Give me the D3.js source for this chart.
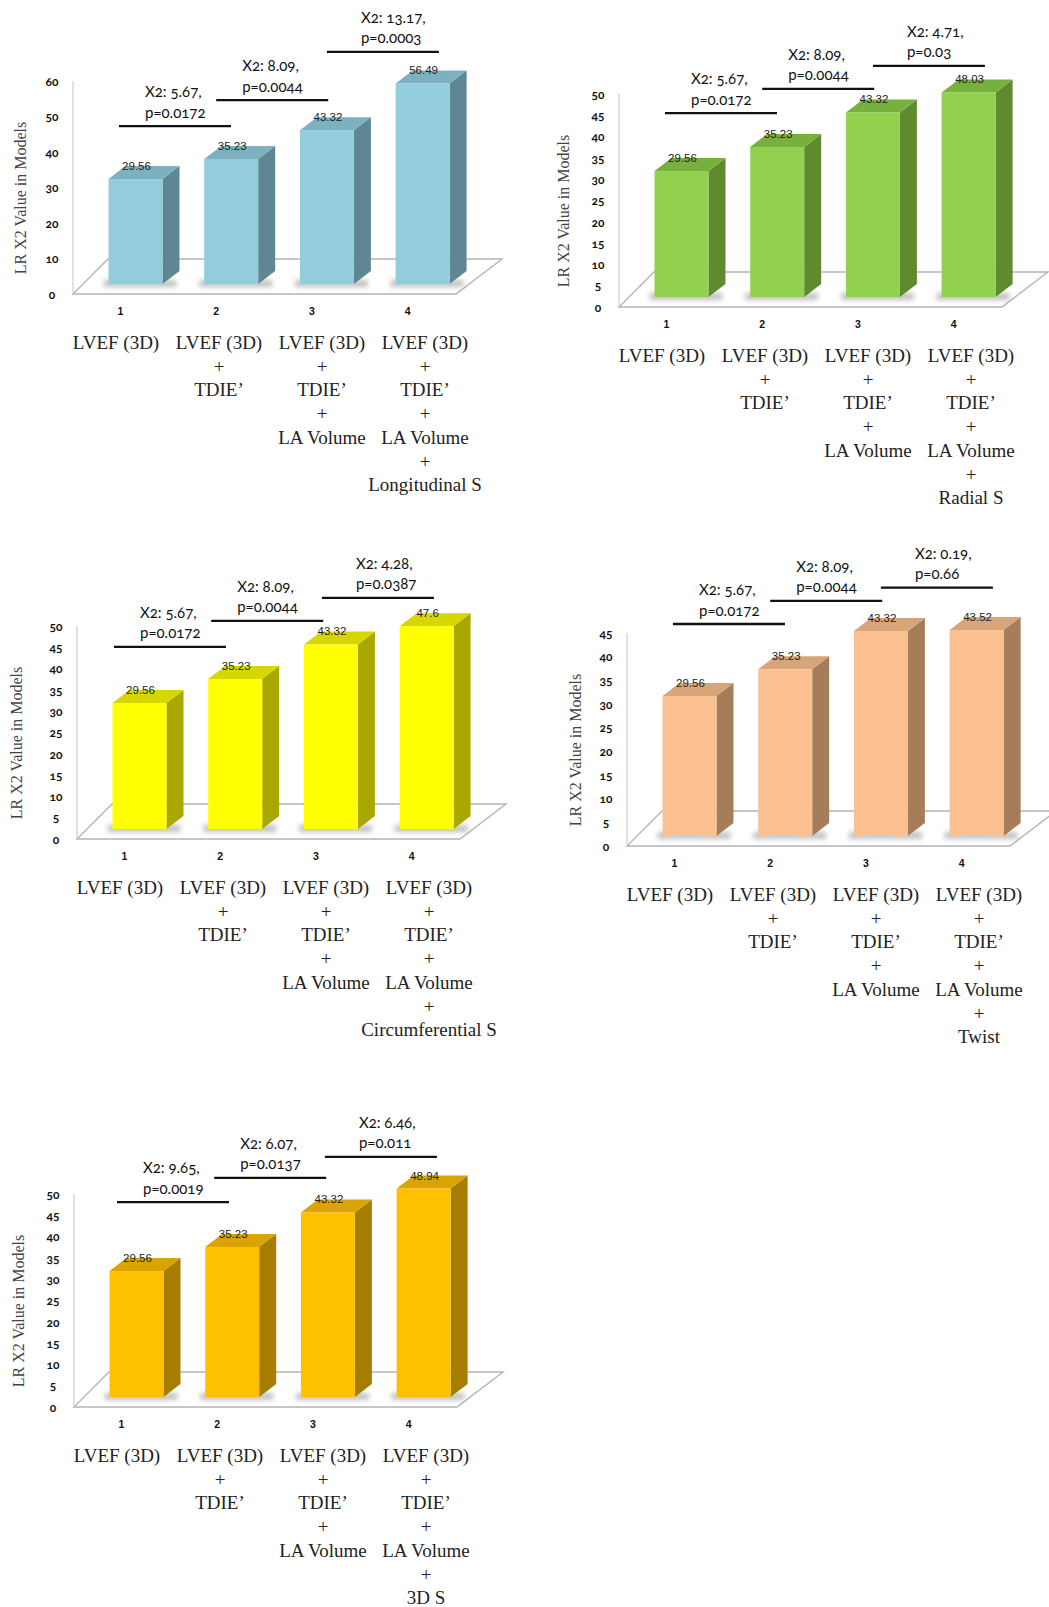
<!DOCTYPE html>
<html><head><meta charset="utf-8">
<script src="https://cdn.jsdelivr.net/npm/d3@7"></script>
<style>
body{margin:0;background:#fff;}
svg{display:block;}
.oldnum{font-variant-numeric:oldstyle-nums;font-feature-settings:"onum" 1;}
</style></head><body>
<svg id="c" width="1049" height="1607"></svg>
<script>
// ---------- DATA ----------
const categories = ["1", "2", "3", "4"];
const modelLines = [
  ["LVEF (3D)"],
  ["LVEF (3D)", "+", "TDIE’"],
  ["LVEF (3D)", "+", "TDIE’", "+", "LA Volume"],
  ["LVEF (3D)", "+", "TDIE’", "+", "LA Volume", "+"]
];
const addedMarkers = ["Longitudinal S", "Radial S", "Circumferential S", "Twist", "3D S"];
const valuesLongitudinal = [29.56, 35.23, 43.32, 56.49];
const valuesRadial = [29.56, 35.23, 43.32, 48.03];
const valuesCircumferential = [29.56, 35.23, 43.32, 47.6];
const valuesTwist = [29.56, 35.23, 43.32, 43.52];
const values3DS = [29.56, 35.23, 43.32, 48.94];
const chiLongitudinal = [["X2: 5.67,", "p=0.0172"], ["X2: 8.09,", "p=0.0044"], ["X2: 13.17,", "p=0.0003"]];
const chiRadial = [["X2: 5.67,", "p=0.0172"], ["X2: 8.09,", "p=0.0044"], ["X2: 4.71,", "p=0.03"]];
const chiCircumferential = [["X2: 5.67,", "p=0.0172"], ["X2: 8.09,", "p=0.0044"], ["X2: 4.28,", "p=0.0387"]];
const chiTwist = [["X2: 5.67,", "p=0.0172"], ["X2: 8.09,", "p=0.0044"], ["X2: 0.19,", "p=0.66"]];
const chi3DS = [["X2: 9.65,", "p=0.0019"], ["X2: 6.07,", "p=0.0137"], ["X2: 6.46,", "p=0.011"]];
const yMaxes = [60, 50, 50, 45, 50];
const tickSteps = [10, 5, 5, 5, 5];
const yAxisTitle = "LR X2 Value in Models";

// ---------- LAYOUT / STYLE ----------
const panels = [
  {values: valuesLongitudinal, chi: chiLongitudinal, marker: addedMarkers[0], max: yMaxes[0], step: tickSteps[0],
   ax: 73, ay: 294, titleDx: -53, bShift: 0, levels: [47.3, 54.6, 68.2],
   front: "#93CDDD", side: "#5E8792", top: "#7DB1BF"},
  {values: valuesRadial, chi: chiRadial, marker: addedMarkers[1], max: yMaxes[1], step: tickSteps[1],
   ax: 619, ay: 307, titleDx: -56, bShift: 0, levels: [45.5, 51.2, 56.6],
   front: "#92D050", side: "#5F8A30", top: "#78B03D"},
  {values: valuesCircumferential, chi: chiCircumferential, marker: addedMarkers[2], max: yMaxes[2], step: tickSteps[2],
   ax: 77, ay: 839, titleDx: -61, bShift: -9, levels: [45.1, 51.2, 56.6],
   front: "#FFFF00", side: "#A8A800", top: "#D6D600"},
  {values: valuesTwist, chi: chiTwist, marker: addedMarkers[3], max: yMaxes[3], step: tickSteps[3],
   ax: 627, ay: 846, titleDx: -52, bShift: 0, levels: [46.9, 51.8, 54.6],
   front: "#FAC08F", side: "#A67D5B", top: "#D8A479"},
  {values: values3DS, chi: chi3DS, marker: addedMarkers[4], max: yMaxes[4], step: tickSteps[4],
   ax: 74, ay: 1407, titleDx: -56, bShift: -3, levels: [48.1, 53.8, 58.7],
   front: "#FFC000", side: "#A67D00", top: "#D9A400"}
];

const svg = d3.select("#c");
const defs = svg.append("defs");
defs.append("filter").attr("id", "blur").attr("x", "-20%").attr("y", "-100%").attr("width", "140%").attr("height", "300%")
  .append("feGaussianBlur").attr("stdDeviation", 2.5);

const DX = 17, DY = -13, LIFT = 10, AXH = 213;
const bracketOffsets = [-16.5, -15, 0], bracketLen = 112, textOffsets = [26, 26, 34];

panels.forEach(p => {
  const g = svg.append("g");
  const {ax, ay} = p;
  const y = d3.scaleLinear().domain([0, p.max]).range([ay, ay - AXH]);
  const x = d3.scaleBand().domain(categories).range([ax + 35.5, ax + 376.6]).paddingInner(0.436).paddingOuter(0);
  const bw = x.bandwidth();
  const yb = v => y(v) - LIFT;
  const labelX = d3.scalePoint().domain(categories).range([ax + 43, ax + 352]);

  // floor
  const fl = [[ax, ay], [ax + 383, ay], [ax + 429, ay - 35], [ax + 35, ay - 35]];
  g.append("polygon").attr("points", fl.map(d => d.join(",")).join(" "))
    .attr("fill", "#fff").attr("stroke", "#b4b4b4").attr("stroke-width", 1.4);
  // vertical axis line
  g.append("line").attr("x1", ax).attr("x2", ax).attr("y1", y(0)).attr("y2", y(p.max))
    .attr("stroke", "#cfcfcf").attr("stroke-width", 1.2);

  // y axis ticks
  const yAxis = d3.axisLeft(y).tickValues(d3.range(0, p.max + 0.001, p.step)).tickSize(0).tickFormat(d3.format("d"));
  const ga = g.append("g").attr("transform", `translate(${ax},0)`).call(yAxis);
  ga.select(".domain").remove();
  ga.selectAll("text").attr("x", -21).attr("text-anchor", "middle").attr("dy", "0.35em")
    .attr("class", "oldnum")
    .style("font-family", "Lato, 'Open Sans', sans-serif").style("font-weight", "bold").style("font-size", "12px").attr("fill", "#111");

  // y title
  g.append("text").attr("transform", `translate(${ax + p.titleDx},${ay - 96}) rotate(-90)`)
    .attr("text-anchor", "middle").attr("dy", "0.35em")
    .style("font-family", "'Liberation Serif', 'Times New Roman', serif").style("font-size", "16px")
    .attr("fill", "#444").text(yAxisTitle);

  // shadows
  g.selectAll(".sh").data(p.values).join("rect")
    .attr("x", (d, i) => x(categories[i]) - 5).attr("y", yb(0) - 4)
    .attr("width", bw + DX + 2).attr("height", 7)
    .attr("fill", "#666").attr("opacity", 0.4).attr("filter", "url(#blur)");

  // bars
  const bars = g.selectAll(".bar").data(p.values).join("g");
  bars.append("polygon").attr("points", (d, i) => {
    const x1 = x(categories[i]) + bw, t = yb(d), b = yb(0);
    return [[x1, t], [x1 + DX, t + DY], [x1 + DX, b + DY], [x1, b]].map(q => q.join(",")).join(" ");
  }).attr("fill", p.side);
  bars.append("polygon").attr("points", (d, i) => {
    const x0 = x(categories[i]), x1 = x0 + bw, t = yb(d);
    return [[x0, t], [x0 + DX, t + DY], [x1 + DX, t + DY], [x1, t]].map(q => q.join(",")).join(" ");
  }).attr("fill", p.top);
  bars.append("rect").attr("x", (d, i) => x(categories[i])).attr("y", d => yb(d))
    .attr("width", bw).attr("height", d => yb(0) - yb(d)).attr("fill", p.front);

  // value labels
  g.selectAll(".vl").data(p.values).join("text")
    .attr("x", (d, i) => x(categories[i]) + bw / 2 + 1).attr("y", d => yb(d) - 9)
    .attr("text-anchor", "middle")
    .style("font-family", "'Liberation Sans', Arial, sans-serif").style("font-size", "11.5px")
    .attr("fill", "#222").text(d => d);

  // category numbers
  const xAxis = d3.axisBottom(x).tickSize(0).tickPadding(0);
  const gx = g.append("g").attr("transform", `translate(0,${ay + 14})`).call(xAxis);
  gx.select(".domain").remove();
  gx.selectAll("text").attr("x", -15)
    .style("font-family", "'Liberation Sans', Arial, sans-serif").style("font-weight", "bold").style("font-size", "10.5px").attr("fill", "#111");

  // multiline model labels
  const lines = modelLines.map((l, i) => i === 3 ? l.concat([p.marker]) : l);
  lines.forEach((l, i) => {
    g.selectAll(null).data(l).join("text")
      .attr("x", labelX(categories[i])).attr("y", (d, j) => ay + 55 + j * 23.7)
      .attr("text-anchor", "middle")
      .style("font-family", "'Liberation Serif', 'Times New Roman', serif").style("font-size", "19px")
      .attr("fill", "#222").text(d => d);
  });

  // significance brackets
  p.chi.forEach((c, i) => {
    const xs = x(categories[i]) + bw / 2 + bracketOffsets[i] + p.bShift;
    const ly = y(p.levels[i]);
    g.append("line").attr("x1", xs).attr("x2", xs + bracketLen).attr("y1", ly).attr("y2", ly)
      .attr("stroke", "#111").attr("stroke-width", 2.3);
    g.selectAll(null).data(c).join("text")
      .attr("class", "oldnum")
      .attr("x", xs + textOffsets[i]).attr("y", (d, j) => ly - 29 + j * 20.5)
      .style("font-family", "Lato, 'Open Sans', sans-serif").style("font-size", "15px")
      .attr("fill", "#111").text(d => d);
  });
});
</script>
</body></html>
